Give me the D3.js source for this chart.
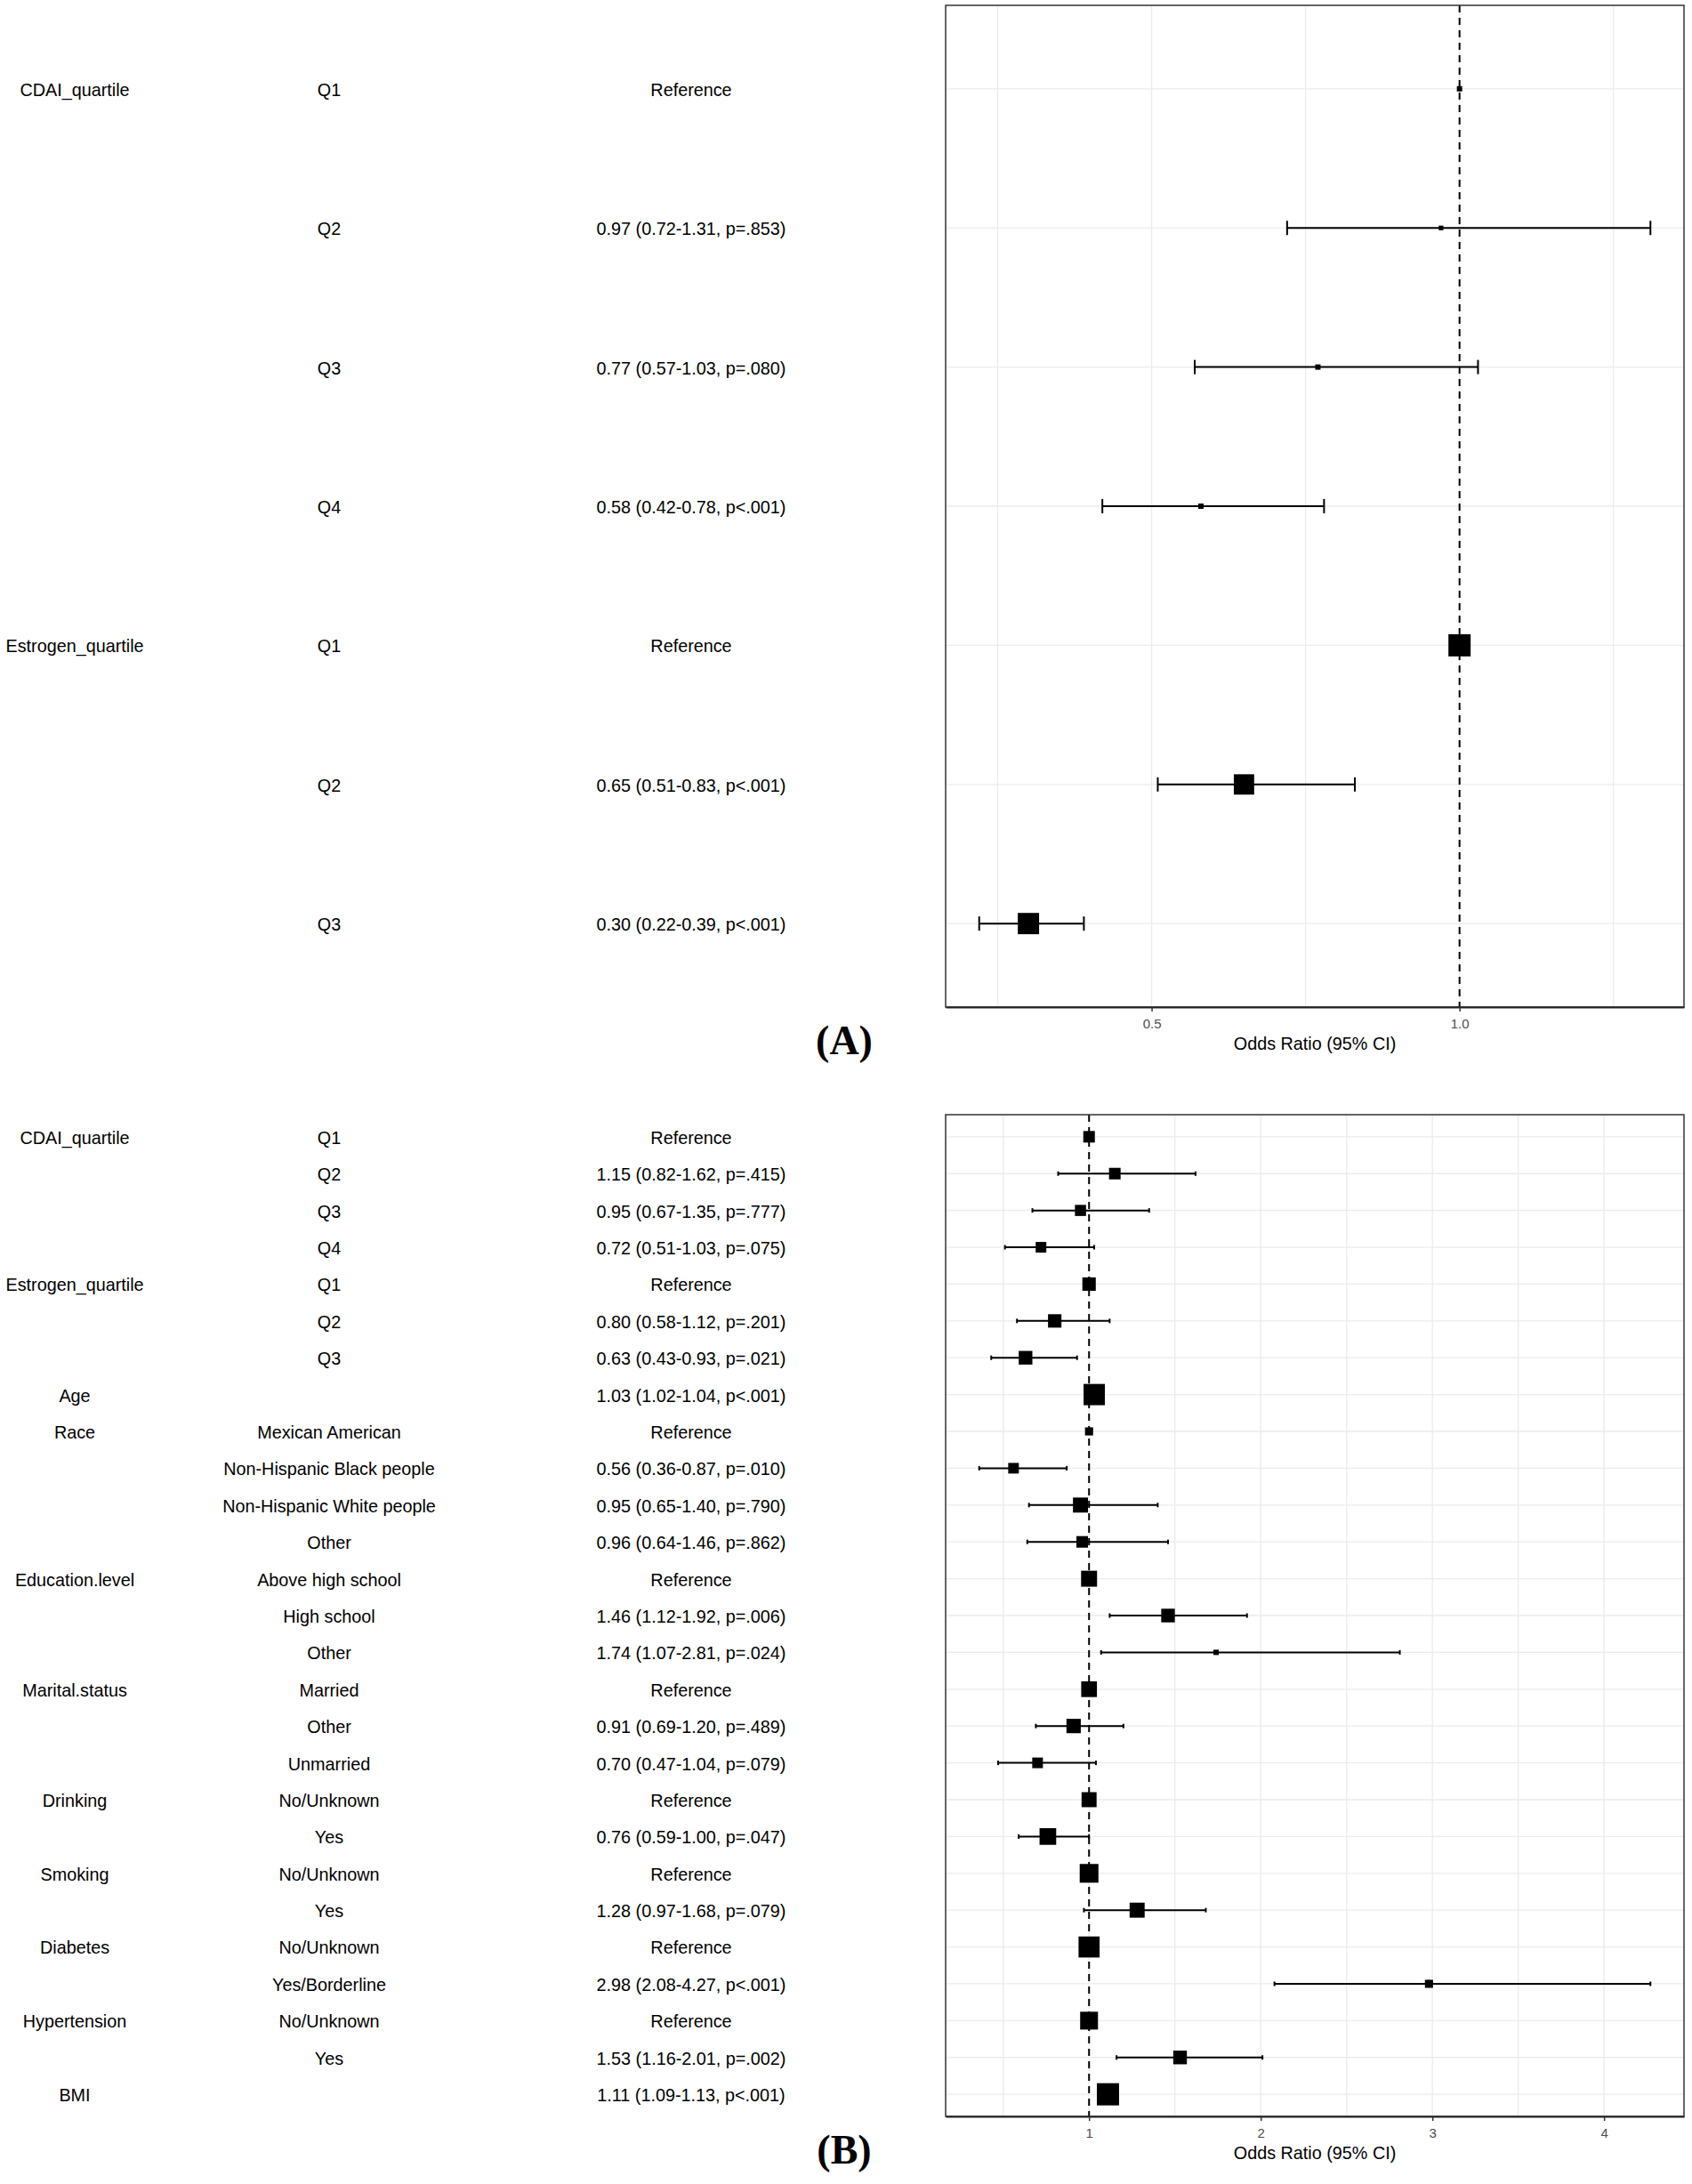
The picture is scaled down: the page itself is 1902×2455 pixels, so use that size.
<!DOCTYPE html>
<html>
<head>
<meta charset="utf-8">
<script src="https://cdn.jsdelivr.net/npm/d3@7"></script>
<style>
  body { margin: 0; background: #fff; }
  svg text { font-family: "Liberation Sans", Arial, sans-serif; }
  .label { font-size: 19.8px; fill: #000; }
  .tick text { font-size: 15px; fill: #4d4d4d; }
  .axis-title { font-size: 19.8px; fill: #000; }
  .panel-tag { font-family: "Liberation Serif", "Times New Roman", serif; font-weight: bold; font-size: 46px; fill: #000; }
</style>
</head>
<body>
<svg id="chart" width="1902" height="2455"></svg>
<script>
'use strict';

// ---- panel A: crude model ----
const groupsA = ['CDAI_quartile', '', '', '', 'Estrogen_quartile', '', '']
const levelsA = ['Q1', 'Q2', 'Q3', 'Q4', 'Q1', 'Q2', 'Q3']
const textA   = ['Reference', '0.97 (0.72-1.31, p=.853)', '0.77 (0.57-1.03, p=.080)', '0.58 (0.42-0.78, p<.001)',
                 'Reference', '0.65 (0.51-0.83, p<.001)', '0.30 (0.22-0.39, p<.001)']
const orA     = [1, 0.97, 0.77, 0.58, 1, 0.65, 0.30]
const lowA    = [null, 0.72, 0.57, 0.42, null, 0.51, 0.22]
const highA   = [null, 1.31, 1.03, 0.78, null, 0.83, 0.39]
const weightA = [23, 20, 23, 23, 96, 88, 92]
const ticksA  = [0.5, 1.0]
const minorA  = [0.25, 0.75, 1.25]

// ---- panel B: adjusted model ----
const groupsB = ['CDAI_quartile', '', '', '', 'Estrogen_quartile', '', '', 'Age', 'Race', '', '', '',
                 'Education.level', '', '', 'Marital.status', '', '', 'Drinking', '', 'Smoking', '',
                 'Diabetes', '', 'Hypertension', '', 'BMI']
const levelsB = ['Q1', 'Q2', 'Q3', 'Q4', 'Q1', 'Q2', 'Q3', '', 'Mexican American', 'Non-Hispanic Black people',
                 'Non-Hispanic White people', 'Other', 'Above high school', 'High school', 'Other', 'Married',
                 'Other', 'Unmarried', 'No/Unknown', 'Yes', 'No/Unknown', 'Yes', 'No/Unknown', 'Yes/Borderline',
                 'No/Unknown', 'Yes', '']
const textB   = ['Reference', '1.15 (0.82-1.62, p=.415)', '0.95 (0.67-1.35, p=.777)', '0.72 (0.51-1.03, p=.075)',
                 'Reference', '0.80 (0.58-1.12, p=.201)', '0.63 (0.43-0.93, p=.021)', '1.03 (1.02-1.04, p<.001)',
                 'Reference', '0.56 (0.36-0.87, p=.010)', '0.95 (0.65-1.40, p=.790)', '0.96 (0.64-1.46, p=.862)',
                 'Reference', '1.46 (1.12-1.92, p=.006)', '1.74 (1.07-2.81, p=.024)',
                 'Reference', '0.91 (0.69-1.20, p=.489)', '0.70 (0.47-1.04, p=.079)',
                 'Reference', '0.76 (0.59-1.00, p=.047)', 'Reference', '1.28 (0.97-1.68, p=.079)',
                 'Reference', '2.98 (2.08-4.27, p<.001)', 'Reference', '1.53 (1.16-2.01, p=.002)',
                 '1.11 (1.09-1.13, p<.001)']
const orB     = [1, 1.15, 0.95, 0.72, 1, 0.80, 0.63, 1.03, 1, 0.56, 0.95, 0.96, 1, 1.46, 1.74,
                 1, 0.91, 0.70, 1, 0.76, 1, 1.28, 1, 2.98, 1, 1.53, 1.11]
const lowB    = [null, 0.82, 0.67, 0.51, null, 0.58, 0.43, 1.02, null, 0.36, 0.65, 0.64, null, 1.12, 1.07,
                 null, 0.69, 0.47, null, 0.59, null, 0.97, null, 2.08, null, 1.16, 1.09]
const highB   = [null, 1.62, 1.35, 1.03, null, 1.12, 0.93, 1.04, null, 0.87, 1.40, 1.46, null, 1.92, 2.81,
                 null, 1.20, 1.04, null, 1.00, null, 1.68, null, 4.27, null, 2.01, 1.13]
const weightB = [50, 50, 48, 46, 58, 58, 59, 92, 35, 46, 65, 50, 69, 59, 23, 68, 62, 46, 65, 72, 81, 65,
                 91, 35, 77, 59, 96]
const ticksB  = [1, 2, 3, 4]
const minorB  = [0.5, 1.5, 2.5, 3.5]

const svg = d3.select('#chart')
svg.append('rect').attr('width', 1902).attr('height', 2455).attr('fill', '#fff')

const columnX  = [84, 370, 777]
const sizeOf   = d3.scaleLinear().domain([0, 100]).range([0, 26])

function rowsOf(groups, levels, texts, or, low, high, weight) {
  return or.map((v, i) => ({
    i: i, group: groups[i], level: levels[i], text: texts[i],
    or: v, low: low[i], high: high[i], weight: weight[i]
  }))
}

function drawPanel(cfg) {
  const rows = cfg.rows
  const g    = svg.append('g')

  // ggplot-like 5% expansion around the data range
  const values = rows.flatMap((r) => [r.or, r.low, r.high]).filter((v) => v != null)
  const [lo, hi] = d3.extent(values)
  const pad = (hi - lo) * 0.05
  const x = d3.scaleLinear().domain([lo - pad, hi + pad]).range([cfg.left, cfg.right])
  const y = d3.scalePoint().domain(rows.map((r) => r.i)).range([cfg.top, cfg.bottom]).padding(0.6)

  // grid
  g.selectAll('line.vgrid')
    .data(cfg.ticks.concat(cfg.minor))
    .enter().append('line')
      .attr('x1', (d) => x(d)).attr('x2', (d) => x(d))
      .attr('y1', cfg.top).attr('y2', cfg.bottom)
      .attr('stroke', '#ebebeb').attr('stroke-width', 1.3)

  g.selectAll('line.hgrid')
    .data(rows)
    .enter().append('line')
      .attr('x1', cfg.left).attr('x2', cfg.right)
      .attr('y1', (r) => y(r.i)).attr('y2', (r) => y(r.i))
      .attr('stroke', '#ebebeb').attr('stroke-width', 1.3)

  // reference line at OR = 1
  g.append('line')
    .attr('x1', x(1)).attr('x2', x(1))
    .attr('y1', cfg.top).attr('y2', cfg.bottom)
    .attr('stroke', '#000').attr('stroke-width', 2)
    .attr('stroke-dasharray', '8,6')

  // whiskers
  const ci = rows.filter((r) => r.low != null)
  g.selectAll('line.ci')
    .data(ci)
    .enter().append('line')
      .attr('x1', (r) => x(r.low)).attr('x2', (r) => x(r.high))
      .attr('y1', (r) => y(r.i)).attr('y2', (r) => y(r.i))
      .attr('stroke', '#000').attr('stroke-width', 2)

  ;['low', 'high'].forEach((end) => {
    g.selectAll(`line.cap-${end}`)
      .data(ci)
      .enter().append('line')
        .attr('x1', (r) => x(r[end])).attr('x2', (r) => x(r[end]))
        .attr('y1', (r) => y(r.i) - cfg.cap / 2).attr('y2', (r) => y(r.i) + cfg.cap / 2)
        .attr('stroke', '#000').attr('stroke-width', 2)
  })

  // point estimates
  g.selectAll('rect.est')
    .data(rows)
    .enter().append('rect')
      .attr('x',      (r) => x(r.or) - sizeOf(r.weight) / 2)
      .attr('y',      (r) => y(r.i) - sizeOf(r.weight) / 2)
      .attr('width',  (r) => sizeOf(r.weight))
      .attr('height', (r) => sizeOf(r.weight))
      .attr('fill', '#000')

  // panel border
  g.append('rect')
    .attr('x', cfg.left).attr('y', cfg.top)
    .attr('width', cfg.right - cfg.left).attr('height', cfg.bottom - cfg.top)
    .attr('fill', 'none').attr('stroke', '#333').attr('stroke-width', 1.5)

  // x axis
  const axis = g.append('g')
    .attr('transform', `translate(0,${cfg.bottom})`)
    .call(d3.axisBottom(x).tickValues(cfg.ticks).tickFormat(d3.format(cfg.format))
      .tickSize(5).tickSizeOuter(0).tickPadding(8))
  axis.select('.domain').attr('stroke', '#222').attr('stroke-width', 2)
  axis.selectAll('.tick line').attr('stroke', '#333').attr('stroke-width', 1.5)
  axis.attr('font-family', null).attr('font-size', null)

  g.append('text')
    .attr('class', 'axis-title')
    .attr('x', (cfg.left + cfg.right) / 2).attr('y', cfg.bottom + 48)
    .attr('text-anchor', 'middle')
    .text('Odds Ratio (95% CI)')

  g.append('text')
    .attr('class', 'panel-tag')
    .attr('x', 949).attr('y', cfg.bottom + 53)
    .attr('text-anchor', 'middle')
    .text(cfg.tag)

  // table columns on the left
  ;['group', 'level', 'text'].forEach((key, ci) => {
    g.selectAll(`text.col-${key}`)
      .data(rows.filter((r) => r[key] !== ''))
      .enter().append('text')
        .attr('class', 'label')
        .attr('x', columnX[ci])
        .attr('y', (r) => y(r.i))
        .attr('dy', '0.4em')
        .attr('text-anchor', 'middle')
        .text((r) => r[key])
  })
}

drawPanel({
  rows: rowsOf(groupsA, levelsA, textA, orA, lowA, highA, weightA),
  ticks: ticksA, minor: minorA, format: '.1f', tag: '(A)',
  left: 1063, right: 1893, top: 6, bottom: 1132, cap: 16
})

drawPanel({
  rows: rowsOf(groupsB, levelsB, textB, orB, lowB, highB, weightB),
  ticks: ticksB, minor: minorB, format: 'd', tag: '(B)',
  left: 1063, right: 1893, top: 1253, bottom: 2379, cap: 5
})
</script>
</body>
</html>
